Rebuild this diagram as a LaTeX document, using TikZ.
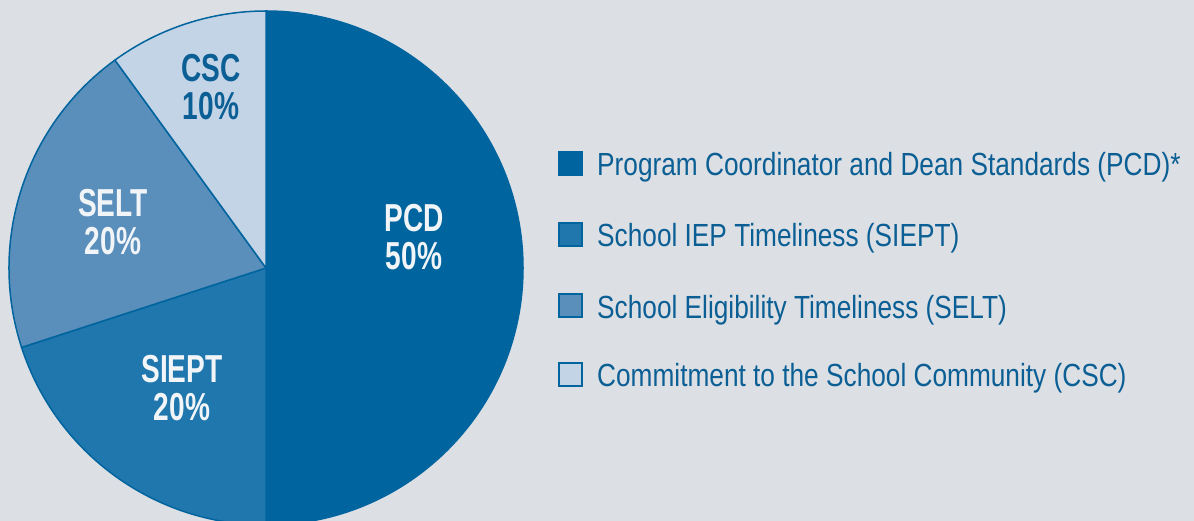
\documentclass[tikz,border=0pt]{standalone}
\usepackage{fontspec}
\setmainfont{Liberation Sans}[FakeStretch=0.82]
\newfontfamily\lblfont{Liberation Sans}[FakeStretch=0.72]
\definecolor{bg}{HTML}{DCDFE3}
\definecolor{pcdc}{HTML}{00649E}
\definecolor{siec}{HTML}{1F77AD}
\definecolor{seltc}{HTML}{5A8EBB}
\definecolor{cscc}{HTML}{C3D4E6}
\definecolor{txt}{HTML}{0B5F95}
\definecolor{wtxt}{HTML}{F2F5F8}
\begin{document}
\begin{tikzpicture}[x=1pt,y=1pt,
  slice/.style={draw=pcdc,line width=1.5pt,line join=round},
  lbl/.style={align=center,inner sep=0pt,font=\lblfont\bfseries\fontsize{39}{38}\selectfont},
  legbox/.style={draw=pcdc,line width=2pt,minimum size=23pt,inner sep=0pt,anchor=south west},
  legtxt/.style={anchor=base west,inner sep=0pt,text=txt,font=\fontsize{32}{36}\selectfont}]
\fill[bg] (0,0) rectangle (1194,521);
\useasboundingbox (0,0) rectangle (1194,521);
\coordinate (c) at (266,253);
\def\R{257}
\filldraw[slice,fill=pcdc] (c) -- ++(90:\R) arc (90:-90:\R) -- cycle;
\filldraw[slice,fill=siec] (c) -- ++(270:\R) arc (270:198:\R) -- cycle;
\filldraw[slice,fill=seltc] (c) -- ++(198:\R) arc (198:126:\R) -- cycle;
\filldraw[slice,fill=cscc] (c) -- ++(126:\R) arc (126:90:\R) -- cycle;
\node[lbl,text=wtxt] (lpcd) at (414,284) {PCD\\50\%};
\node[lbl,text=txt] (lcsc) at (211,434) {CSC\\10\%};
\node[lbl,text=wtxt] (lselt) at (113,299) {SELT\\20\%};
\node[lbl,text=wtxt] (lsiept) at (182,133) {SIEPT\\20\%};
\node[legbox,fill=pcdc] (b1) at (558,345) {};
\node[legbox,fill=siec] (b2) at (558,274) {};
\node[legbox,fill=seltc] (b3) at (558,203) {};
\node[legbox,fill=cscc] (b4) at (558,134) {};
\node[legtxt] (t1) at (597,345) {Program Coordinator and Dean Standards (PCD)*};
\node[legtxt] (t2) at (597,274) {School IEP Timeliness (SIEPT)};
\node[legtxt] (t3) at (597,202) {School Eligibility Timeliness (SELT)};
\node[legtxt] (t4) at (597,134) {Commitment to the School Community (CSC)};
\end{tikzpicture}
\end{document}
